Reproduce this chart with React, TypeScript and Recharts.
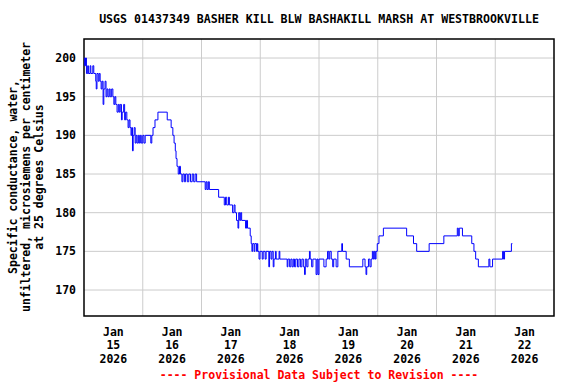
import { CartesianGrid, Line, LineChart, ReferenceArea, XAxis, YAxis } from "recharts";

// hours since Jan 15 2026 00:00
const hours = [
  0, 0.3, 0.6, 1.0, 1.5, 1.8, 2.5, 2.8, 3.6, 4.0, 4.8, 5.0, 5.3, 5.8, 6.2, 6.6, 7.0, 7.4, 7.8, 8.1,
  8.6, 9.0, 9.4, 9.8, 10.3, 10.7, 11.3, 11.8, 12.2, 12.6, 13.0, 13.5, 14.0, 14.4, 14.8, 15.3, 15.6, 16.2, 16.6, 17.0,
  17.5, 18.0, 18.4, 18.8, 19.2, 19.5, 19.8, 20.1, 20.5, 20.9, 21.3, 21.7, 22.2, 22.6, 23.0, 23.4, 24.0, 24.5, 25.0, 27.3,
  27.7, 28.2, 29.0, 30.2, 34.0, 35.6, 36.3, 36.8, 37.3, 37.6, 38.0, 38.5, 39.0, 39.4, 40.0, 40.4, 41.0, 41.5, 42.2, 42.8,
  43.5, 44.2, 44.8, 45.4, 46.0, 49.5, 49.9, 50.3, 50.8, 51.2, 55.0, 57.3, 57.8, 58.3, 59.0, 59.4, 60.7, 61.3, 61.7, 62.3,
  62.9, 63.2, 63.6, 64.0, 64.4, 66.0, 66.4, 66.8, 67.9, 68.3, 68.6, 68.9, 69.5, 69.8, 70.5, 70.8, 71.0, 71.5, 71.9, 72.8,
  73.2, 74.0, 74.4, 75.5, 75.8, 76.4, 76.8, 77.3, 77.6, 78.2, 78.5, 79.7, 80.0, 83.0, 83.3, 84.0, 84.5, 85.0, 85.5, 86.0,
  86.5, 87.2, 87.8, 88.4, 89.0, 89.6, 90.1, 90.4, 91.0, 91.5, 92.1, 92.4, 93.0, 93.5, 94.8, 95.2, 95.6, 96.0, 98.0, 98.9,
  99.5, 100.0, 100.4, 101.0, 101.6, 102.0, 103.0, 103.7, 105.3, 105.6, 107.1, 108.4, 113.9, 114.8, 115.2, 115.5, 116.2, 116.8, 117.3, 117.8,
  118.2, 118.6, 119.0, 119.3, 119.8, 120.5, 122.3, 131.8, 134.6, 135.9, 141.0, 147.0, 152.5, 152.9, 153.3, 154.6, 158.4, 159.3,
  160.0, 161.1, 165.4, 165.8, 166.9, 171.0, 171.4, 171.8, 174.6, 175.0,
];

// specific conductance, uS/cm at 25 C
const specCond = [
  200, 199, 200, 198, 199, 198, 199, 198, 199, 198, 197, 196, 198, 197, 198, 197, 196, 197, 194, 196,
  197, 195, 196, 195, 196, 195, 196, 195, 194, 195, 194, 193, 194, 193, 194, 192, 193, 194, 192, 193,
  192, 191, 192, 191, 190, 191, 188, 190, 191, 189, 190, 189, 190, 189, 190, 189, 190, 189, 190, 189,
  190, 191, 192, 193, 192, 191, 190, 189, 188, 187, 186, 185, 186, 185, 184, 185, 184, 185, 184, 185,
  184, 185, 184, 185, 184, 183, 184, 183, 184, 183, 182, 181, 182, 181, 182, 181, 180, 181, 180, 179,
  178, 180, 179, 180, 179, 178, 179, 178, 177, 176, 175, 176, 175, 176, 175, 176, 175, 174, 175, 174,
  175, 174, 175, 173, 175, 174, 175, 173, 174, 175, 174, 175, 174, 173, 174, 173, 174, 173, 174, 173,
  174, 173, 174, 173, 174, 173, 172, 174, 173, 174, 175, 174, 173, 174, 172, 174, 172, 174, 173, 174,
  175, 174, 175, 174, 173, 174, 173, 175, 176, 175, 174, 173, 174, 173, 172, 173, 174, 173, 174, 175,
  174, 175, 174, 175, 176, 177, 178, 177, 176, 175, 176, 177, 178, 177, 178, 177, 176, 175,
  174, 173, 174, 173, 174, 175, 174, 175, 176, 176,
];

const dayLabels = ["15", "16", "17", "18", "19", "20", "21", "22"];
const labelHours = [12, 36, 60, 84, 108, 132, 156, 180];
const midnightHours = [24, 48, 72, 96, 120, 144, 168];
const yTicks = [170, 175, 180, 185, 190, 195, 200];
const xDomain = [0, 192];
const yDomain = [166.64, 202.46];

const data = hours.map((h, i) => ({ h, v: specCond[i] }));

const FONT = "'DejaVu Sans Mono', monospace";

function DayTick({ x, y, payload }: any) {
  const i = labelHours.indexOf(payload.value);
  return (
    <text x={x} y={y} textAnchor="middle" fontFamily={FONT} fontWeight="bold" fontSize={11.5} fill="#000">
      <tspan x={x} dy={19.5}>Jan</tspan>
      <tspan x={x} dy={13.5}>{dayLabels[i]}</tspan>
      <tspan x={x} dy={13.5}>2026</tspan>
    </text>
  );
}

export default function App() {
  return (
    <div style={{ position: "relative", width: 576, height: 384, background: "#fff", fontFamily: FONT }}>
      <style>{"body{margin:0}"}</style>
      <div style={{ position: "absolute", left: 84, width: 470, top: 12, textAlign: "center", fontSize: 11.6, fontWeight: "bold", whiteSpace: "nowrap" }}>
        USGS 01437349 BASHER KILL BLW BASHAKILL MARSH AT WESTBROOKVILLE
      </div>
      <div
        style={{
          position: "absolute", left: 28 - 160, top: 177 - 21, width: 320, height: 42,
          transform: "rotate(-90deg)", textAlign: "center", fontSize: 11.5, fontWeight: "bold",
          lineHeight: "13px", whiteSpace: "nowrap",
        }}
      >
        Specific conductance, water,<br />unfiltered, microsiemens per centimeter<br />at 25 degrees Celsius
      </div>
      <div style={{ position: "absolute", left: 84, width: 470, top: 368, textAlign: "center", fontSize: 11.5, fontWeight: "bold", color: "#ff0000", whiteSpace: "nowrap" }}>
        ---- Provisional Data Subject to Revision ----
      </div>
      <LineChart width={576} height={384} data={data} margin={{ top: 39, right: 22, bottom: 0, left: 0 }} style={{ position: "absolute", left: 0, top: 0 }}>
        <CartesianGrid stroke="#cccccc" verticalValues={midnightHours} horizontalValues={yTicks} />
        <XAxis
          dataKey="h" type="number" domain={xDomain} ticks={labelHours} interval={0} height={68}
          tickSize={0} tickMargin={0} axisLine={false} tick={<DayTick />} allowDataOverflow
        />
        <YAxis
          type="number" domain={yDomain} ticks={yTicks} interval={0} width={84} tickSize={0} tickMargin={8}
          axisLine={false} allowDataOverflow
          tick={{ fontFamily: FONT, fontWeight: "bold", fontSize: 11.5, fill: "#000" }}
        />
        <Line type="stepAfter" dataKey="v" stroke="#0000ff" strokeWidth={1} dot={false} isAnimationActive={false} />
        <ReferenceArea x1={xDomain[0]} x2={xDomain[1]} y1={yDomain[0]} y2={yDomain[1]} fill="none" stroke="#000" strokeWidth={1.5} ifOverflow="visible" />
      </LineChart>
    </div>
  );
}
